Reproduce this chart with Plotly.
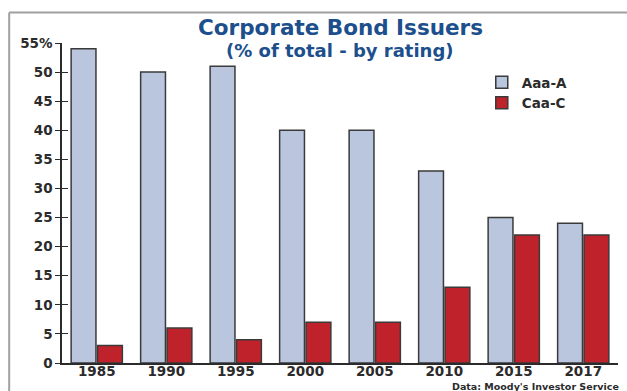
import plotly.graph_objects as go

years = ["1985", "1990", "1995", "2000", "2005", "2010", "2015", "2017"]
aaa_a = [54, 50, 51, 40, 40, 33, 25, 24]
caa_c = [3, 6, 4, 7, 7, 13, 22, 22]
y_ticks = [0, 5, 10, 15, 20, 25, 30, 35, 40, 45, 50, 55]
y_tick_text = ["0", "5", "10", "15", "20", "25", "30", "35", "40", "45", "50", "55%"]

WIDE = "DejaVu Sans, sans-serif"
INK = "#2b2b2b"
NAVY = "#1c4f8c"

outline = dict(color="#3a3a3a", width=1.5)
fig = go.Figure()
fig.add_trace(go.Bar(x=years, y=aaa_a, name="Aaa-A",
                     marker=dict(color="#bac6dd", line=outline)))
fig.add_trace(go.Bar(x=years, y=caa_c, name="Caa-C",
                     marker=dict(color="#c0222b", line=outline)))

label_font = dict(family=WIDE, size=13.5, color=INK, weight="bold")

fig.update_layout(
    width=627, height=391,
    margin=dict(l=62, r=9, t=43, b=28),
    paper_bgcolor="white", plot_bgcolor="white",
    barmode="group", bargap=0.24, bargroupgap=0.06,
    showlegend=True,
    legend=dict(x=0.755, y=0.925, xanchor="left", yanchor="top",
                font=label_font, itemwidth=30, bgcolor="rgba(0,0,0,0)"),
    xaxis=dict(showgrid=False, showline=True, linecolor=INK, linewidth=1.5,
               ticks="", automargin=False, ticklabelstandoff=-5,
               tickfont=label_font, fixedrange=True),
    yaxis=dict(range=[0, 55], tickvals=y_ticks, ticktext=y_tick_text,
               showgrid=False, zeroline=False, showline=True, automargin=False,
               linecolor=INK, linewidth=1.5,
               ticks="outside", ticklen=5, tickwidth=1.2, tickcolor=INK,
               tickfont=label_font),
    yaxis2=dict(range=[0, 55], tickvals=y_ticks, overlaying="y", side="left",
                showgrid=False, zeroline=False, showline=False, automargin=False,
                ticks="inside", ticklen=6, tickwidth=1.2, tickcolor=INK,
                showticklabels=False),
)

# invisible trace so the inside tick marks of the second axis are drawn
fig.add_trace(go.Scatter(x=[years[0]], y=[0], yaxis="y2", mode="markers",
                         marker=dict(opacity=0), showlegend=False,
                         hoverinfo="skip"))

fig.add_annotation(text="<b>Corporate Bond Issuers</b>", xref="paper", yref="paper",
                   x=0.5, y=1, yshift=15.5, xanchor="center", yanchor="middle",
                   borderpad=0, showarrow=False,
                   font=dict(family=WIDE, size=21.5, color=NAVY))
fig.add_annotation(text="<b>(% of total - by rating)</b>", xref="paper", yref="paper",
                   x=0.5, y=1, yshift=-7.8, xanchor="center", yanchor="middle",
                   borderpad=0, showarrow=False,
                   font=dict(family=WIDE, size=18, color=NAVY))
fig.add_annotation(text="<b>Data: Moody's Investor Service</b>", xref="paper",
                   yref="paper", x=1, y=0, xanchor="right", yanchor="top",
                   yshift=-16.5, xshift=2, borderpad=0, showarrow=False,
                   font=dict(family=WIDE, size=9.5, color=INK))

# outer frame lines
fig.add_shape(type="line", xref="paper", yref="paper", x0=-0.095, x1=1.02,
              y0=1.095, y1=1.095, line=dict(color="#a0a0a0", width=2))
fig.add_shape(type="line", xref="paper", yref="paper", x0=-0.095, x1=-0.095,
              y0=1.095, y1=-0.1, line=dict(color="#a0a0a0", width=2))

fig.write_html("out.html")
